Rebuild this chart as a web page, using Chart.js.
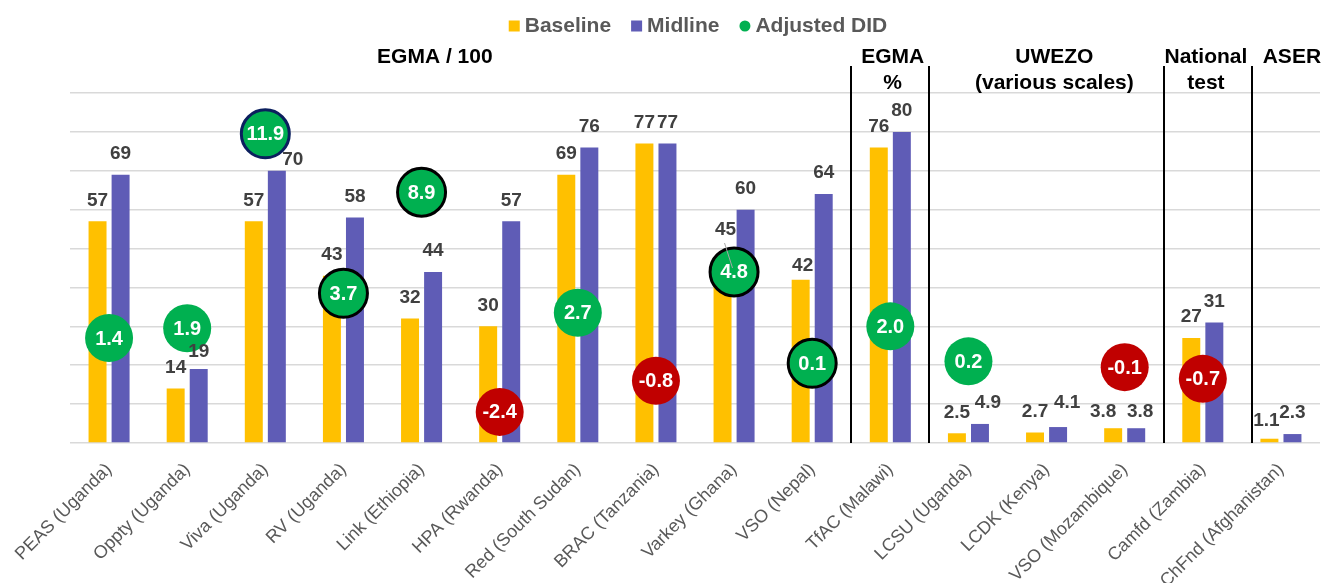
<!DOCTYPE html>
<html>
<head>
<meta charset="utf-8">
<title>Baseline vs Midline</title>
<script src="https://cdn.jsdelivr.net/npm/chart.js@4.4.0/dist/chart.umd.min.js"></script>
<style>
  html, body { margin: 0; padding: 0; background: #fff; }
  #wrap { width: 1323px; height: 583px; }
</style>
</head>
<body>
<div id="wrap"><canvas id="chart" width="1323" height="583"></canvas></div>
<script>
// ----------------------
// data
// ----------------------
const categories = [
  'PEAS (Uganda)', 'Oppty (Uganda)', 'Viva (Uganda)', 'RV (Uganda)', 'Link (Ethiopia)',
  'HPA (Rwanda)', 'Red (South Sudan)', 'BRAC (Tanzania)', 'Varkey (Ghana)', 'VSO (Nepal)',
  'TfAC (Malawi)', 'LCSU (Uganda)', 'LCDK (Kenya)', 'VSO (Mozambique)', 'Camfd (Zambia)',
  'ChFnd (Afghanistan)'
];
const baseline = [57, 14, 57, 43, 32, 30, 69, 77, 45, 42, 76, 2.5, 2.7, 3.8, 27, 1.1];
const midline  = [69, 19, 70, 58, 44, 57, 76, 77, 60, 64, 80, 4.9, 4.1, 3.8, 31, 2.3];
const adjustedDid = [1.4, 1.9, 11.9, 3.7, 8.9, -2.4, 2.7, -0.8, 4.8, 0.1, 2.0, 0.2, null, -0.1, -0.7, null];
// 0 = not significant, 1 = significant, 2 = strongly significant
const didSigLevel = [0, 0, 2, 1, 1, 0, 0, 0, 1, 1, 0, 0, 0, 0, 0, 0];
const sectionTitles = [['EGMA / 100'], ['EGMA', '%'], ['UWEZO', '(various scales)'], ['National', 'test'], ['ASER']];

// ----------------------
// look
// ----------------------
const FONT = '"Liberation Sans", Arial, Helvetica, sans-serif';
const YELLOW = '#FFC000';
const PURPLE = '#5F5CB6';
const GREEN = '#00B050';
const RED = '#C00000';
const NAVY = '#0B1F5E';

// where section titles / dividers sit, in category units
const titleCenters = [4.17, 10.03, 12.1, 14.04, 15.14];
const sectionBreaks = [9.5, 10.5, 13.5, 14.63];

// hand-moved labels, 'dataset:index' -> [dx, dy, leader]
const labelNudge = {
  '1:8': [3, -17, true], '2:2': [16, 10], '1:9': [2, 7], '2:1': [0, 4], '1:15': [-3, 3],
  '2:11': [8, 0], '2:12': [9, -3], '1:13': [-10, 5], '2:13': [4, 5]
};

Chart.defaults.font.family = FONT;

function catX(scale, v) {
  return scale.left + (v + 0.5) * scale.width / categories.length;
}

const overlay = {
  id: 'overlay',
  beforeDatasetsDraw(chart) {
    const { ctx, chartArea, scales: { x } } = chart;
    ctx.save();
    ctx.strokeStyle = '#000';
    ctx.lineWidth = 2;
    sectionBreaks.forEach(b => {
      const px = Math.round(catX(x, b));
      ctx.beginPath();
      ctx.moveTo(px, chartArea.top - 27);
      ctx.lineTo(px, chartArea.bottom);
      ctx.stroke();
    });
    ctx.restore();
  },
  afterDatasetsDraw(chart) {
    const { ctx } = chart;
    ctx.save();
    ctx.textAlign = 'center';
    ctx.textBaseline = 'middle';

    // bar values
    ctx.font = 'bold 19px ' + FONT;
    [1, 2].forEach(di => {
      const meta = chart.getDatasetMeta(di);
      const values = chart.data.datasets[di].data;
      meta.data.forEach((bar, i) => {
        const n = labelNudge[di + ':' + i] || [0, 0, false];
        const lx = bar.x + n[0];
        const ly = bar.y - 21 + n[1];
        if (n[2]) {
          ctx.strokeStyle = '#A6A6A6';
          ctx.lineWidth = 1;
          ctx.beginPath();
          ctx.moveTo(lx - 1, ly + 13);
          ctx.lineTo(bar.x + 10, bar.y);
          ctx.stroke();
        }
        ctx.fillStyle = '#404040';
        ctx.fillText(String(values[i]), lx, ly);
      });
    });

    // DID values in circles
    ctx.font = 'bold 20px ' + FONT;
    ctx.fillStyle = '#fff';
    const dmeta = chart.getDatasetMeta(0);
    dmeta.data.forEach((pt, i) => {
      if (adjustedDid[i] === null) return;
      ctx.fillText(adjustedDid[i].toFixed(1), pt.x, pt.y + 1);
    });
    ctx.restore();
  },
  afterDraw(chart) {
    const { ctx, chartArea, scales: { x } } = chart;
    ctx.save();
    // section titles
    ctx.font = 'bold 21px ' + FONT;
    ctx.fillStyle = '#000';
    ctx.textAlign = 'center';
    ctx.textBaseline = 'middle';
    sectionTitles.forEach((lines, k) => {
      const cx = catX(x, titleCenters[k]);
      lines.forEach((t, j) => ctx.fillText(t, cx, 57 + j * 26));
    });

    // legend
    const items = [
      { text: 'Baseline', color: YELLOW, shape: 'square' },
      { text: 'Midline', color: PURPLE, shape: 'square' },
      { text: 'Adjusted DID', color: GREEN, shape: 'circle' }
    ];
    ctx.font = 'bold 21px ' + FONT;
    const box = 11, gap = 5, spacing = 20;
    let total = 0;
    items.forEach((it, k) => {
      it.w = ctx.measureText(it.text).width;
      total += box + gap + it.w + (k < items.length - 1 ? spacing : 0);
    });
    let lx = (chartArea.left + chartArea.right) / 2 + 3 - total / 2;
    const ly = 26;
    ctx.textAlign = 'left';
    items.forEach(it => {
      ctx.fillStyle = it.color;
      if (it.shape === 'square') {
        ctx.fillRect(lx, ly - box / 2, box, box);
      } else {
        ctx.beginPath();
        ctx.arc(lx + box / 2, ly, box / 2, 0, Math.PI * 2);
        ctx.fill();
      }
      ctx.fillStyle = '#595959';
      ctx.fillText(it.text, lx + box + gap, ly);
      lx += box + gap + it.w + spacing;
    });
    ctx.restore();
  }
};

const ctx = document.getElementById('chart').getContext('2d');
new Chart(ctx, {
  data: {
    labels: categories,
    datasets: [
      {
        type: 'line',
        label: 'Adjusted DID',
        data: adjustedDid,
        yAxisID: 'y2',
        order: 0,
        showLine: false,
        clip: false,
        pointRadius: 24,
        pointHoverRadius: 24,
        pointBackgroundColor: adjustedDid.map(v => (v !== null && v < 0) ? RED : GREEN),
        pointBorderColor: didSigLevel.map(s => s === 2 ? NAVY : '#000'),
        pointBorderWidth: didSigLevel.map(s => s ? 3 : 0),
        pointHoverBorderWidth: didSigLevel.map(s => s ? 3 : 0)
      },
      {
        type: 'bar',
        label: 'Baseline',
        data: baseline,
        backgroundColor: YELLOW,
        order: 1,
        categoryPercentage: 0.59,
        barPercentage: 0.78
      },
      {
        type: 'bar',
        label: 'Midline',
        data: midline,
        backgroundColor: PURPLE,
        order: 1,
        categoryPercentage: 0.59,
        barPercentage: 0.78
      }
    ]
  },
  options: {
    responsive: false,
    animation: false,
    devicePixelRatio: 1,
    events: [],
    layout: { autoPadding: false, padding: { left: 70, right: 3, top: 93, bottom: 0 } },
    plugins: {
      legend: { display: false },
      tooltip: { enabled: false }
    },
    scales: {
      x: {
        grid: { display: false },
        border: { display: false },
        ticks: {
          autoSkip: false,
          maxRotation: 45,
          minRotation: 45,
          color: '#595959',
          font: { size: 18 },
          padding: 8
        },
        afterFit(s) {
          s.height = 140;
          s.paddingLeft = 0;
          s.paddingRight = 0;
        }
      },
      y: {
        min: 0,
        max: 90,
        ticks: { display: false, stepSize: 10 },
        grid: { color: '#D9D9D9', lineWidth: 1.5, drawTicks: false },
        border: { display: false }
      },
      y2: { display: false, min: -4, max: 14 }
    }
  },
  plugins: [overlay]
});
</script>
</body>
</html>
